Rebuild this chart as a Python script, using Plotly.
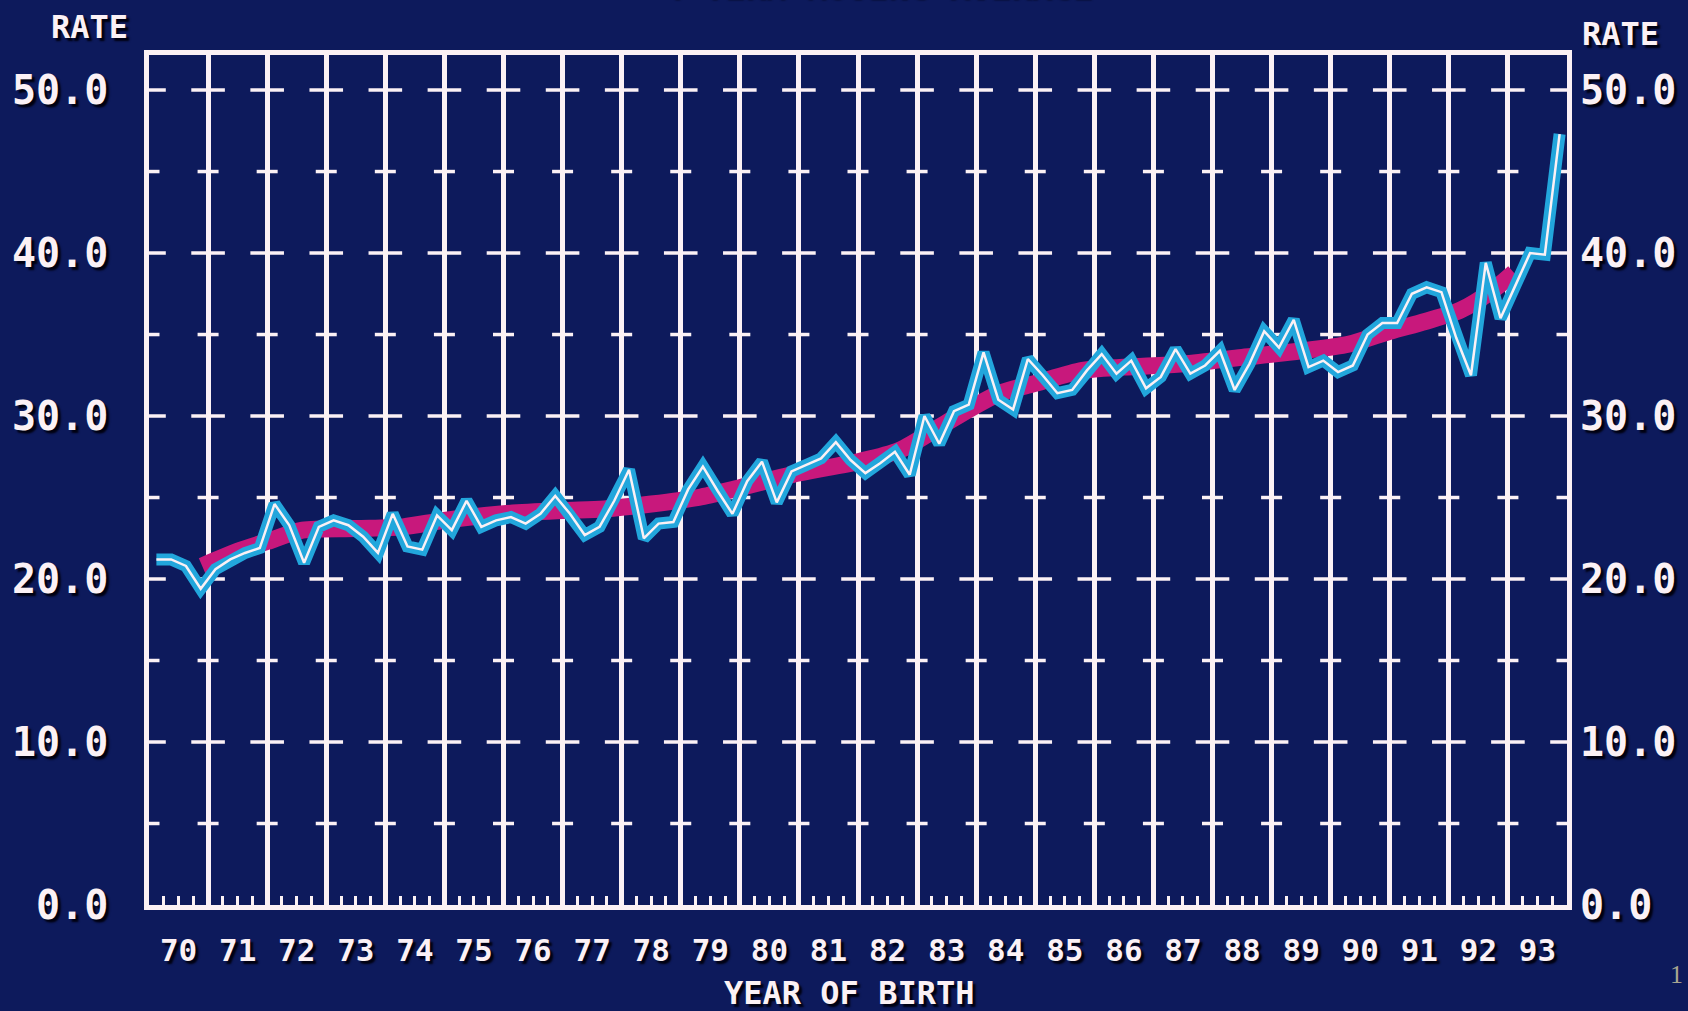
import plotly.graph_objects as go

# ---------------- data ----------------
YEARS = list(range(70, 94))
YEAR_LABELS = [str(y) for y in YEARS]

# quarterly rate (4 values per year of birth, 1970..1993)
QUARTERLY_RATE = [
    21.2, 21.2, 20.8, 19.4,   # 70
    20.6, 21.2, 21.6, 21.9,   # 71
    24.6, 23.3, 21.0, 23.2,   # 72
    23.6, 23.3, 22.6, 21.6,   # 73
    24.0, 22.0, 21.8, 23.9,   # 74
    23.0, 24.8, 23.2, 23.6,   # 75
    23.8, 23.4, 24.0, 25.1,   # 76
    24.0, 22.7, 23.2, 24.8,   # 77
    26.7, 22.5, 23.4, 23.5,   # 78
    25.5, 26.9, 25.4, 24.0,   # 79
    26.0, 27.2, 24.7, 26.6,   # 80
    27.0, 27.4, 28.4, 27.3,   # 81
    26.5, 27.1, 27.8, 26.4,   # 82
    30.0, 28.3, 30.3, 30.7,   # 83
    33.9, 31.0, 30.4, 33.5,   # 84
    32.5, 31.4, 31.6, 32.8,   # 85
    33.8, 32.6, 33.4, 31.7,   # 86
    32.4, 34.1, 32.6, 33.1,   # 87
    34.0, 31.6, 33.2, 35.2,   # 88
    34.2, 35.9, 33.0, 33.4,   # 89
    32.7, 33.1, 35.0, 35.7,   # 90
    35.7, 37.5, 37.9, 37.6,   # 91
    34.8, 32.5, 39.4, 36.0,   # 92
    38.0, 40.0, 39.9, 47.3,   # 93
]

# smoothed trend
TREND_YEAR = [70.9, 71.5, 72.0, 72.6, 73.5, 74.3, 75.0, 76.0, 77.0, 77.7,
              78.5, 79.3, 80.0, 81.0, 82.0, 82.7, 83.5, 84.4, 85.0, 85.8,
              86.5, 87.5, 88.5, 89.5, 90.3, 91.0, 91.6, 92.2, 92.7, 93.1]
TREND_RATE = [20.8, 21.7, 22.3, 23.0, 23.1, 23.2, 23.6, 24.0, 24.2, 24.3,
              24.6, 25.0, 25.6, 26.5, 27.2, 27.9, 29.6, 31.4, 32.0, 32.8,
              33.0, 33.2, 33.6, 34.0, 34.4, 35.2, 35.8, 36.5, 37.6, 38.8]

Y_TICKS = [0, 10, 20, 30, 40, 50]
Y_TICK_LABELS = [f"{v:.1f}" for v in Y_TICKS]
CROSSBAR_STEPS = [5, 10, 15, 20, 25, 30, 35, 40, 45, 50]

TITLE_TEXT = "4 TERM MOVING AVERAGE"

# ---------------- derived positions ----------------
quarter_x = [y + (q + 0.5) / 4 for y in YEARS for q in range(4)]
grid_x = YEARS + [YEARS[-1] + 1]
quarter_ticks = [y + q / 4 for y in YEARS for q in (1, 2, 3)]

major_x, major_y, minor_x, minor_y = [], [], [], []
for gx in grid_x:
    for s in CROSSBAR_STEPS:
        if s % 10 == 0:
            major_x.append(gx); major_y.append(s)
        else:
            minor_x.append(gx); minor_y.append(s)

WHITE = "#fbf1f5"
BG = "#0d1a5c"
MAGENTA = "#c8187c"
BLUE = "#22a6dc"
FONT = "DejaVu Sans Mono"
SHADOW = "3px 3px 2px #000010"
Y_RANGE = [0, 52.15]
X_RANGE = [70, 94]

fig = go.Figure()

# crossbars on the vertical grid lines
fig.add_trace(go.Scatter(
    x=minor_x, y=minor_y, mode="markers", hoverinfo="skip",
    marker=dict(symbol="line-ew", size=15, line=dict(color=WHITE, width=3.5)),
))
fig.add_trace(go.Scatter(
    x=major_x, y=major_y, mode="markers", hoverinfo="skip",
    marker=dict(symbol="line-ew", size=24, line=dict(color=WHITE, width=3.5)),
))

# magenta trend band
fig.add_trace(go.Scatter(
    x=TREND_YEAR, y=TREND_RATE, mode="lines", hoverinfo="skip",
    line=dict(color=MAGENTA, width=17, shape="spline", smoothing=0.8),
))
# blue quarterly line with white core
fig.add_trace(go.Scatter(
    x=quarter_x, y=QUARTERLY_RATE, mode="lines", hoverinfo="skip",
    line=dict(color=BLUE, width=12),
))
fig.add_trace(go.Scatter(
    x=quarter_x, y=QUARTERLY_RATE, mode="lines", hoverinfo="skip",
    line=dict(color=WHITE, width=2.5),
))

# empty helper traces so the overlay axes exist
fig.add_trace(go.Scatter(x=[], y=[], xaxis="x2", yaxis="y", hoverinfo="skip"))
fig.add_trace(go.Scatter(x=[], y=[], xaxis="x3", yaxis="y", hoverinfo="skip"))
fig.add_trace(go.Scatter(x=[], y=[], xaxis="x", yaxis="y2", hoverinfo="skip"))

tick_font = dict(family=FONT, size=40, color=WHITE, weight="bold", shadow=SHADOW)

fig.update_layout(
    width=1688, height=1011,
    margin=dict(l=143, r=114, t=55, b=106),
    paper_bgcolor=BG, plot_bgcolor=BG,
    showlegend=False,
    xaxis=dict(
        range=X_RANGE, tickmode="array",
        tickvals=[y + 0.5 for y in YEARS], ticktext=YEAR_LABELS,
        ticks="", showgrid=False, zeroline=False,
        showline=True, mirror=True, linecolor=WHITE, linewidth=5,
        tickfont=dict(family=FONT, size=31, color=WHITE, weight="bold", shadow=SHADOW),
        ticklabelstandoff=14,
    ),
    xaxis2=dict(
        range=X_RANGE, overlaying="x", anchor="y", side="bottom",
        tickmode="array", tickvals=grid_x, showticklabels=False, ticks="",
        showgrid=True, gridcolor=WHITE, gridwidth=4.5, zeroline=False,
    ),
    xaxis3=dict(
        range=X_RANGE, overlaying="x", anchor="y", side="bottom",
        tickmode="array", tickvals=quarter_ticks, showticklabels=False,
        ticks="inside", ticklen=9, tickwidth=3, tickcolor=WHITE,
        showgrid=False, zeroline=False,
    ),
    yaxis=dict(
        range=Y_RANGE, tickmode="array", tickvals=Y_TICKS, ticktext=Y_TICK_LABELS,
        ticks="", showgrid=False, zeroline=False,
        showline=True, mirror=True, linecolor=WHITE, linewidth=4.5,
        tickfont=tick_font, ticklabelstandoff=28,
    ),
    yaxis2=dict(
        range=Y_RANGE, overlaying="y", anchor="x", side="right",
        tickmode="array", tickvals=Y_TICKS, ticktext=Y_TICK_LABELS,
        ticks="", showgrid=False, zeroline=False, showline=False,
        tickfont=tick_font, ticklabelstandoff=12,
    ),
)

label_font = dict(family=FONT, size=32, color=WHITE, weight="bold", shadow=SHADOW)
fig.add_annotation(text="RATE", xref="paper", yref="paper", x=-0.042, y=1.033,
                   xanchor="center", yanchor="middle", showarrow=False, font=label_font)
fig.add_annotation(text="RATE", xref="paper", yref="paper", x=1.0377, y=1.025,
                   xanchor="center", yanchor="middle", showarrow=False, font=label_font)
fig.add_annotation(text="YEAR OF BIRTH", xref="paper", yref="paper", x=0.494, y=-0.1035,
                   xanchor="center", yanchor="middle", showarrow=False, font=label_font)
fig.add_annotation(text=TITLE_TEXT, xref="paper", yref="paper", x=0.513, y=1.0565,
                   xanchor="center", yanchor="bottom", showarrow=False,
                   font=dict(family=FONT, size=34, color=WHITE, weight="bold", shadow=SHADOW))
fig.add_annotation(text="1", xref="paper", yref="paper", x=1.0713, y=-0.082,
                   xanchor="left", yanchor="middle", showarrow=False,
                   font=dict(family="Liberation Serif", size=26, color="#a8a690"))

fig.write_html(
    "out.html",
    config={"displayModeBar": False},
    post_script="document.body.style.margin='0';document.body.style.background='%s';" % BG,
)
